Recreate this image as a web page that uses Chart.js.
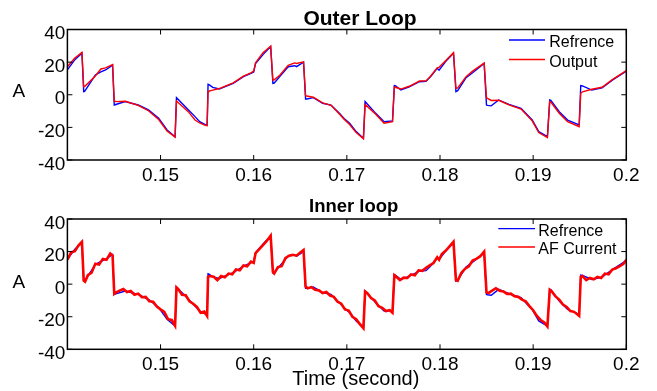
<!DOCTYPE html>
<html>
<head>
<meta charset="utf-8">
<script src="https://cdn.jsdelivr.net/npm/chart.js@4/dist/chart.umd.min.js"></script>
<style>
  html, body { margin: 0; padding: 0; background: #fff; }
  #wrap { position: relative; width: 657px; height: 391px; overflow: hidden; }
  canvas { position: absolute; left: 0; }
  #c1 { top: 0; }
  #c2 { top: 195px; }
</style>
</head>
<body>
<div id="wrap">
  <canvas id="c1" width="657" height="195"></canvas>
  <canvas id="c2" width="657" height="196"></canvas>
</div>
<script>
// ---- data ----
const timeS = [0.1400,0.1408,0.14156,0.14175,0.14185,0.1430,0.1436,0.1441,0.14485,0.14503,0.1452,0.1462,0.1476,0.1487,0.1498,0.1507,0.15156,0.15171,0.1530,0.1537,0.1542,0.1548,0.1550,0.1551,0.1552,0.1556,0.1563,0.1578,0.1589,0.1597,0.1600,0.1602,0.1610,0.16182,0.16206,0.1622,0.1628,0.1637,0.1644,0.1646,0.16535,0.16557,0.1657,0.1664,0.1674,0.1683,0.1692,0.1697,0.1703,0.1710,0.17178,0.17196,0.1731,0.1740,0.1749,0.1751,0.1752,0.1758,0.1767,0.1778,0.1785,0.1790,0.1797,0.1799,0.1806,0.18145,0.18171,0.1819,0.1828,0.1835,0.18474,0.18499,0.1851,0.1855,0.1863,0.1874,0.1887,0.1899,0.1906,0.19153,0.19178,0.1919,0.1928,0.1937,0.19494,0.19511,0.1953,0.1963,0.1974,0.1985,0.2000];
const refA = [15.2,21.5,25.4,1.9,2.0,12.1,14.0,15.2,18.2,-6.3,-6.0,-4.2,-6.3,-9.3,-14.4,-21.6,-25.7,-1.8,-9.3,-13.4,-16.5,-18.3,-18.5,6.4,6.2,4.5,3.5,7.0,11.1,13.1,14.0,19.2,24.6,29.5,7.0,7.2,11.1,17.2,17.8,17.2,20.0,-2.6,-2.6,-1.8,-5.2,-6.3,-11.4,-14.5,-17.5,-22.6,-26.7,-4.2,-11.4,-16.5,-16.1,5.6,5.5,2.9,4.9,8.0,8.3,11.1,16.2,15.0,20.3,25.4,1.9,2.5,10.5,13.5,19.2,-6.3,-6.5,-6.8,-3.2,-5.9,-8.3,-15.5,-22.6,-25.7,-3.2,-3.4,-10.4,-15.5,-18.5,5.6,5.4,2.9,4.3,9.0,14.5];
const outA = [17.2,22.5,26.0,4.9,5.0,11.5,15.8,16.5,18.5,-3.8,-4.2,-4.0,-6.5,-9.8,-15.2,-22.3,-26.0,-3.8,-10.5,-15.5,-17.3,-18.8,-19.0,1.9,2.2,2.8,3.8,7.3,11.4,13.4,14.5,19.6,25.8,29.8,9.0,9.2,12.0,18.0,19.5,19.2,20.2,-0.6,-0.8,-1.5,-5.0,-6.5,-11.8,-15.0,-18.2,-23.2,-27.0,-5.9,-12.0,-17.5,-16.5,4.9,4.6,3.5,5.2,8.4,8.5,11.5,16.5,16.8,20.8,25.8,3.9,4.2,11.1,14.5,19.4,-1.8,-2.2,-3.5,-3.4,-6.2,-8.8,-16.0,-23.2,-26.2,-4.2,-4.5,-11.3,-16.5,-19.6,0.9,1.8,3.4,4.6,9.3,14.8];

const afT = [0.1400,0.1404,0.1408,0.1412,0.14156,0.14175,0.1419,0.1422,0.1426,0.1430,0.1434,0.1438,0.1442,0.1446,0.14485,0.14503,0.1452,0.1456,0.1460,0.1464,0.1468,0.1472,0.1476,0.1480,0.1484,0.1488,0.1492,0.1496,0.1500,0.1504,0.1508,0.1512,0.15156,0.15171,0.1519,0.1523,0.1527,0.1531,0.1535,0.1539,0.1543,0.1547,0.1550,0.1551,0.1553,0.1557,0.1561,0.1565,0.1569,0.1573,0.1577,0.1581,0.1585,0.1589,0.1593,0.1597,0.1600,0.1602,0.1606,0.1610,0.1614,0.16182,0.16206,0.1622,0.1626,0.1630,0.1634,0.1638,0.1642,0.1646,0.1650,0.16535,0.16557,0.1658,0.1662,0.1666,0.1670,0.1674,0.1678,0.1682,0.1686,0.1690,0.1694,0.1698,0.1702,0.1706,0.1710,0.1714,0.17178,0.17196,0.1722,0.1726,0.1730,0.1734,0.1738,0.1742,0.1746,0.1749,0.1751,0.1753,0.1757,0.1761,0.1765,0.1769,0.1773,0.1777,0.1781,0.1785,0.1789,0.1793,0.1797,0.1799,0.1802,0.1806,0.1810,0.18145,0.18171,0.1819,0.1823,0.1827,0.1831,0.1835,0.1839,0.1843,0.18474,0.18499,0.1852,0.1856,0.1860,0.1864,0.1868,0.1872,0.1876,0.1880,0.1884,0.1888,0.1892,0.1896,0.1900,0.1904,0.1908,0.1912,0.19153,0.19178,0.1920,0.1924,0.1928,0.1932,0.1936,0.1940,0.1944,0.19494,0.19511,0.1953,0.1957,0.1961,0.1965,0.1969,0.1973,0.1977,0.1981,0.1985,0.1989,0.1993,0.1997,0.2000];
const afA = [15.0,19.5,20.2,23.8,26.0,2.2,1.5,5.5,7.0,12.5,12.0,15.5,15.0,18.8,17.5,-6.0,-5.2,-4.0,-3.0,-4.8,-4.2,-6.5,-5.8,-8.0,-7.8,-10.5,-10.8,-13.8,-15.5,-17.0,-21.5,-22.0,-25.5,-2.0,-3.0,-6.5,-6.8,-10.5,-12.0,-14.0,-17.5,-16.8,-19.5,4.5,5.0,4.5,2.5,5.0,4.2,6.5,6.0,9.0,8.5,11.5,11.0,13.8,13.0,19.0,21.5,24.0,26.5,29.8,7.5,6.5,10.5,11.0,16.0,17.5,18.0,17.5,19.5,21.0,-1.5,-2.5,-1.8,-3.5,-3.8,-5.5,-4.8,-7.0,-7.8,-10.8,-12.0,-15.5,-16.2,-20.0,-21.5,-24.5,-27.0,-4.5,-5.5,-8.5,-10.0,-13.5,-14.5,-16.5,-16.0,-17.5,5.5,4.5,2.5,4.0,3.8,6.0,5.5,8.5,8.2,10.0,11.5,13.0,16.5,15.0,18.5,20.5,23.0,26.0,2.5,2.0,7.0,9.5,11.0,14.5,15.5,17.0,20.0,-5.0,-5.5,-4.0,-2.5,-4.0,-4.5,-6.0,-5.8,-7.5,-7.8,-9.5,-10.5,-13.5,-16.0,-19.5,-22.0,-23.5,-26.0,-3.5,-4.5,-7.5,-9.5,-12.5,-14.0,-16.5,-17.0,-19.5,4.5,5.0,2.5,3.8,3.0,4.5,3.8,6.5,6.0,9.0,9.8,11.0,12.5,15.0];

const xTickVals = [0.15, 0.16, 0.17, 0.18, 0.19, 0.2];
const xTickLabels = ["0.15", "0.16", "0.17", "0.18", "0.19", "0.2"];
const yTickVals = [-40, -20, 0, 20, 40];
const yTickLabels = ["-40", "-20", "0", "20", "40"];

const topTitle = "Outer Loop";
const bottomTitle = "Inner loop";
const yName = "A";
const xName = "Time (second)";
const topNames = ["Refrence", "Output"];
const bottomNames = ["Refrence", "AF Current"];

// ---- helpers ----
const FAM = '"Liberation Sans", Arial, Helvetica, sans-serif';
const pts = (xs, ys) => xs.map((x, i) => ({ x: x, y: ys[i] }));

const decor = {
  id: 'decor',
  afterDatasetsDraw(chart, args, o) {
    const ctx = chart.ctx, a = chart.chartArea;
    const xs = chart.scales.x, ys = chart.scales.y;
    ctx.save();
    ctx.strokeStyle = '#000';
    ctx.lineWidth = 1.5;
    ctx.strokeRect(a.left, a.top, a.right - a.left, a.bottom - a.top);
    ctx.lineWidth = 1;
    const L = 5;
    ctx.beginPath();
    xs.ticks.forEach(t => {
      const p = xs.getPixelForValue(t.value);
      ctx.moveTo(p, a.bottom); ctx.lineTo(p, a.bottom - L);
      ctx.moveTo(p, a.top); ctx.lineTo(p, a.top + L);
    });
    ys.ticks.forEach(t => {
      const p = ys.getPixelForValue(t.value);
      ctx.moveTo(a.left, p); ctx.lineTo(a.left + L, p);
      ctx.moveTo(a.right, p); ctx.lineTo(a.right - L, p);
    });
    ctx.stroke();
    ctx.fillStyle = '#000';
    ctx.textBaseline = 'alphabetic';
    ctx.textAlign = 'center';
    ctx.font = 'bold ' + o.titleSize + 'px ' + FAM;
    ctx.fillText(o.title, o.titleX, o.titleY);
    ctx.font = '19px ' + FAM;
    ctx.fillText(yName, 18.8, o.aY);
    if (o.xName) {
      ctx.font = '20px ' + FAM;
      ctx.fillText(o.xName, 355.8, o.xNameY);
    }
    ctx.textAlign = 'left';
    ctx.font = '16px ' + FAM;
    chart.data.datasets.forEach((ds, i) => {
      const ly = o.legY[i];
      ctx.strokeStyle = ds.borderColor;
      ctx.lineWidth = 1.3;
      ctx.beginPath();
      ctx.moveTo(o.legX0, ly); ctx.lineTo(o.legX1, ly);
      ctx.stroke();
      ctx.fillStyle = '#000';
      ctx.fillText(ds.label, o.legTX, ly + 7);
    });
    ctx.restore();
  }
};

function makeChart(id, datasets, padTop, padBottomAxis, deco) {
  return new Chart(document.getElementById(id), {
    type: 'line',
    data: { datasets: datasets },
    options: {
      responsive: false,
      animation: false,
      devicePixelRatio: 1,
      layout: { padding: { left: 0, right: 30.7, top: padTop, bottom: 0 } },
      elements: { point: { radius: 0 }, line: { tension: 0 } },
      plugins: { legend: { display: false }, title: { display: false }, tooltip: { enabled: false }, decor: deco },
      scales: {
        x: {
          type: 'linear', min: 0.14, max: 0.2,
          afterBuildTicks: s => { s.ticks = xTickVals.map(v => ({ value: v })); },
          afterFit: s => { s.height = padBottomAxis; },
          grid: { display: false, drawTicks: false },
          border: { display: false },
          ticks: {
            autoSkip: false, maxRotation: 0, minRotation: 0, padding: 4, color: '#000',
            font: { family: FAM, size: 19 },
            callback: (v, i) => xTickLabels[i]
          }
        },
        y: {
          type: 'linear', min: -40, max: 40,
          afterBuildTicks: s => { s.ticks = yTickVals.map(v => ({ value: v })); },
          afterFit: s => { s.width = 67.4; },
          grid: { display: false, drawTicks: false },
          border: { display: false },
          ticks: {
            autoSkip: false, padding: 2, color: '#000',
            font: { family: FAM, size: 19, lineHeight: '9px' },
            callback: (v, i) => ['', yTickLabels[i]]
          }
        }
      }
    },
    plugins: [decor]
  });
}

makeChart('c1', [
  { label: topNames[0], data: pts(timeS, refA), borderColor: '#0000ff', borderWidth: 1.4, order: 2 },
  { label: topNames[1], data: pts(timeS, outA), borderColor: '#ff0000', borderWidth: 1.4, order: 1 }
], 29.5, 35, {
  title: topTitle, titleSize: 21, titleX: 360, titleY: 25, aY: 97.3,
  legX0: 509, legX1: 545, legTX: 549.3, legY: [40, 59.5]
});

makeChart('c2', [
  { label: bottomNames[0], data: pts(timeS, refA), borderColor: '#0000ff', borderWidth: 1.4, order: 2 },
  { label: bottomNames[1], data: pts(afT, afA), borderColor: '#ff0000', borderWidth: 2.6, order: 1 }
], 24, 41.7, {
  title: bottomTitle, titleSize: 18.5, titleX: 353.7, titleY: 16.7, aY: 93.3,
  xName: xName, xNameY: 190.3,
  legX0: 498.3, legX1: 535, legTX: 538.3, legY: [33.7, 52]
});
</script>
</body>
</html>
